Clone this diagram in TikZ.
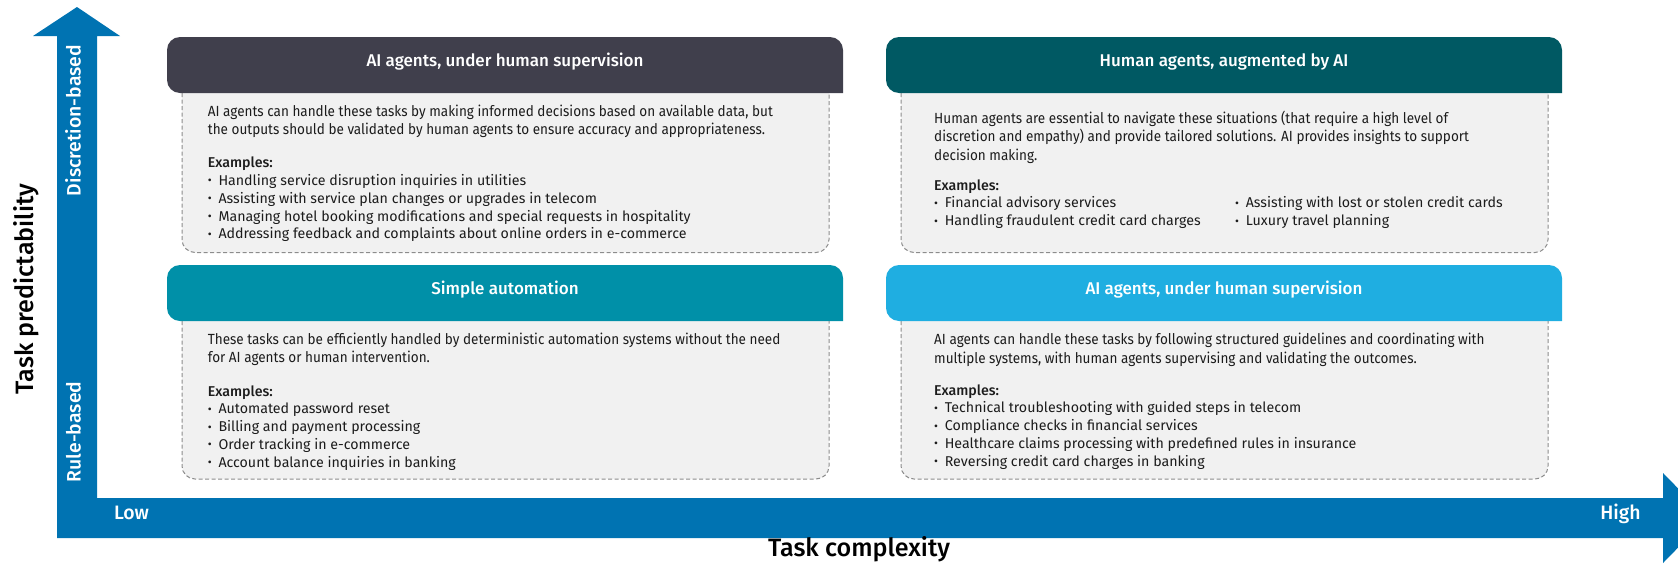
\documentclass[tikz,border=0pt]{standalone}
\usepackage{fontspec}
\setmainfont{Fira Sans}
\newfontfamily\freg{Fira Sans}
\IfFontExistsTF{Fira Sans Book}{\newfontfamily\flight{Fira Sans Book}[FakeStretch=0.92]}{\newfontfamily\flight{Fira Sans}[FakeStretch=0.92]}
\IfFontExistsTF{Fira Sans Medium}{\newfontfamily\fmed{Fira Sans Medium}}{\newfontfamily\fmed{Fira Sans}[UprightFont={* Bold}]}

\definecolor{axisblue}{HTML}{0073B2}
\definecolor{hdrslate}{HTML}{403F4C}
\definecolor{hdrteal}{HTML}{005963}
\definecolor{hdrcyan}{HTML}{0090A8}
\definecolor{hdrsky}{HTML}{1FAEE1}
\definecolor{bodygray}{HTML}{F1F1F1}
\definecolor{dashgray}{HTML}{8C8C8C}
\definecolor{txt}{HTML}{1C1C1C}

\newlength\fitw
\newcommand\fitsize[4]{\settowidth\fitw{#2\fontsize{10pt}{12pt}\selectfont #3}\pgfmathsetmacro#1{10*#4/\fitw}}
\newcommand\bul{\makebox[10.6pt][l]{\raisebox{0.05em}{\scalebox{0.85}{•}}}}
\newcommand\blk[1]{\parbox[t]{800pt}{\noindent #1}}

\tikzset{
  para/.style={font=\flight\fontsize{\psize pt}{18.5pt}\selectfont, text=txt, inner sep=0pt, anchor=mid west},
  blist/.style={font=\freg\fontsize{\bsize pt}{17.8pt}\selectfont, text=txt, inner sep=0pt, anchor=mid west},
  title/.style={font=\fmed\fontsize{\tsize pt}{20pt}\selectfont, text=white, inner sep=0pt, anchor=mid},
  axlab/.style={font=\fmed\fontsize{\asize pt}{20pt}\selectfont, text=white, inner sep=0pt, anchor=mid},
  axtitle/.style={font=\fmed\fontsize{\xsize pt}{24pt}\selectfont, text=black, inner sep=0pt, anchor=mid},
  bodybox/.style={fill=bodygray, draw=dashgray, line width=1pt, dash pattern=on 4pt off 2.5pt, rounded corners=13pt},
}

\newcommand\quadrant[6]{%
  \path[bodybox] (#1+15,#4) -- (#1+15,#5) -- (#3-14,#5) -- (#3-14,#4);
  \fill[#6, rounded corners=13pt] (#3,#4) -- (#1,#4) -- (#1,#2) -- (#3,#2) -- (#3,#4);
}

\begin{document}
\fitsize\psize{\flight}{AI agents can handle these tasks by making informed decisions based on available data, but}{565}%
\fitsize\bsize{\freg}{Addressing feedback and complaints about online orders in e-commerce}{468}%
\fitsize\tsize{\fmed}{AI agents, under human supervision}{277}%
\fitsize\asize{\fmed}{Discretion-based}{151}%
\fitsize\xsize{\fmed}{Task complexity}{182}%
\begin{tikzpicture}[x=1pt,y=-1pt]
\useasboundingbox (0,0) rectangle (1678,568);
\clip (0,0) rectangle (1678,568);

% axes
\fill[axisblue] (57,538) -- (57,36) -- (33,36) -- (77,7) -- (120,36) -- (97,36) -- (97,498)
  -- (1663,498) -- (1663,473) -- (1707,518) -- (1663,563) -- (1663,538) -- cycle;
\node[axlab, rotate=90] (discr) at (78,120.5) {Discretion-based};
\node[axlab, rotate=90] (rule) at (78,432) {Rule-based};
\node[axlab] (low) at (131.5,517) {Low};
\node[axlab] (high) at (1620.5,517) {High};
\node[axtitle, rotate=90] (ylab) at (31,289) {Task predictability};
\node[axtitle] (xlab) at (859,554) {Task complexity};

% quadrants
\quadrant{167}{37}{843}{93}{252.5}{hdrslate}
\quadrant{886}{37}{1562}{93}{252.5}{hdrteal}
\quadrant{167}{265}{843}{321}{479}{hdrcyan}
\quadrant{886}{265}{1562}{321}{479}{hdrsky}

% top-left
\node[title] (tlt) at (505,64) {AI agents, under human supervision};
\node[para] (tlp) at (207.7,113.5) {\blk{AI agents can handle these tasks by making informed decisions based on available data, but\\the outputs should be validated by human agents to ensure accuracy and appropriateness.}};
\node[blist] (tle) at (207.7,165) {\blk{{\fmed Examples:}\\\bul Handling service disruption inquiries in utilities\\\bul Assisting with service plan changes or upgrades in telecom\\\bul Managing hotel booking modifications and special requests in hospitality\\\bul Addressing feedback and complaints about online orders in e-commerce}};

% top-right
\node[title] (trt) at (1224,64) {Human agents, augmented by AI};
\node[para] (trp) at (934,120.5) {\blk{Human agents are essential to navigate these situations (that require a high level of\\discretion and empathy) and provide tailored solutions. AI provides insights to support\\decision making.}};
\node[blist] (tre) at (934,187.5) {\blk{{\fmed Examples:}\\\bul Financial advisory services\\\bul Handling fraudulent credit card charges}};
\node[blist] (tre2) at (1235,205.3) {\blk{\bul Assisting with lost or stolen credit cards\\\bul Luxury travel planning}};

% bottom-left
\node[title] (blt) at (505,292) {Simple automation};
\node[para] (blp) at (207.7,341.5) {\blk{These tasks can be efficiently handled by deterministic automation systems without the need\\for AI agents or human intervention.}};
\node[blist] (ble) at (207.7,393.5) {\blk{{\fmed Examples:}\\\bul Automated password reset\\\bul Billing and payment processing\\\bul Order tracking in e-commerce\\\bul Account balance inquiries in banking}};

% bottom-right
\node[title] (brt) at (1224,292) {AI agents, under human supervision};
\node[para] (brp) at (934,342) {\blk{AI agents can handle these tasks by following structured guidelines and coordinating with\\multiple systems, with human agents supervising and validating the outcomes.}};
\node[blist] (bre) at (934,392.5) {\blk{{\fmed Examples:}\\\bul Technical troubleshooting with guided steps in telecom\\\bul Compliance checks in financial services\\\bul Healthcare claims processing with predefined rules in insurance\\\bul Reversing credit card charges in banking}};
\end{tikzpicture}
\end{document}
